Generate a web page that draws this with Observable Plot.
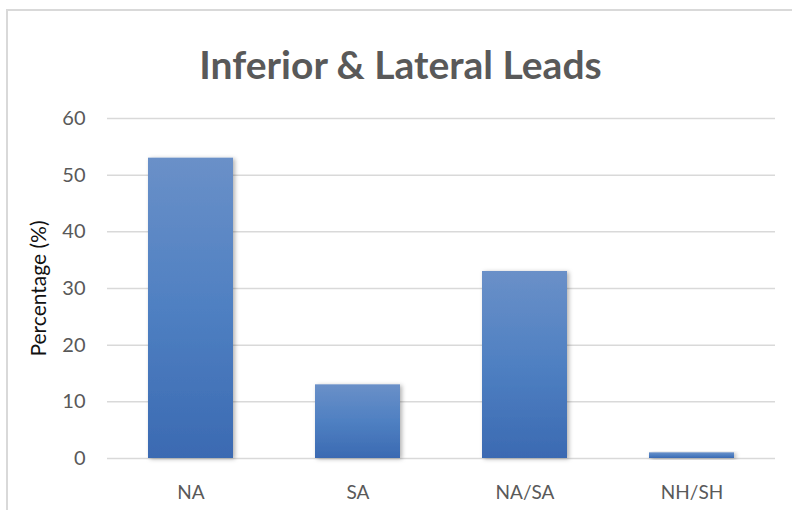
<!DOCTYPE html>
<html><head><meta charset="utf-8">
<script src="https://cdn.jsdelivr.net/npm/d3@7"></script>
<script src="https://cdn.jsdelivr.net/npm/@observablehq/plot@0.6"></script>
<style>
body{margin:0;background:#fff;}
#wrap{position:relative;width:792px;height:510px;overflow:hidden;background:#fff;}
#border{position:absolute;left:6px;top:9px;width:820px;height:540px;border:2px solid #d9d9d9;box-sizing:border-box;}
#wrap svg{position:absolute;left:0;top:0;}
</style></head><body><div id="wrap"><div id="border"></div></div>
<script>
const categories = ["NA", "SA", "NA/SA", "NH/SH"];
const values = [53, 13, 33, 1];
const yTicks = [0, 10, 20, 30, 40, 50, 60];
const title = "Inferior & Lateral Leads";
const yLabel = "Percentage (%)";

const data = categories.map((c, i) => ({category: c, value: values[i]}));

const chart = Plot.plot({
  width: 792, height: 510,
  marginLeft: 107, marginRight: 17, marginTop: 118, marginBottom: 52,
  style: {fontFamily: "Lato, 'Open Sans', sans-serif", background: "transparent", overflow: "visible"},
  x: {domain: categories, paddingInner: 0.49, paddingOuter: 0.245, label: null},
  y: {domain: [0, 60], ticks: yTicks, label: null},
  marks: [
    Plot.gridY(yTicks, {stroke: "#d9d9d9", strokeOpacity: 1, strokeWidth: 1.5}),
    Plot.barY(data, {x: "category", y: "value", fill: "url(#barGrad)"}),
    Plot.axisY(yTicks, {tickSize: 0, tickPadding: 22, fontSize: 20, fill: "#595959", label: null}),
    Plot.axisX({tickSize: 0, tickPadding: 27, fontSize: 19, fill: "#595959", label: null}),
    Plot.text([yLabel], {frameAnchor: "left", textAnchor: "middle", dx: -68, rotate: -90, fontSize: 21, fill: "#111"}),
    Plot.text([title], {frameAnchor: "top", dx: -41, dy: -67, fontSize: 39, fontWeight: "bold", fill: "#595959"})
  ]
});

const svg = d3.select(chart);
svg.insert("defs", ":first-child").html(`
  <linearGradient id="barGrad" x1="0" y1="0" x2="0" y2="1">
    <stop offset="0" stop-color="#6a90c8"/>
    <stop offset="0.5" stop-color="#4f80c2"/>
    <stop offset="1" stop-color="#3b6ab2"/>
  </linearGradient>
  <filter id="shadow" x="-20%" y="-20%" width="140%" height="140%">
    <feDropShadow dx="2" dy="1" stdDeviation="2" flood-color="#000" flood-opacity="0.3"/>
  </filter>`);
svg.selectAll("g[aria-label=bar] rect").attr("filter", "url(#shadow)");
document.getElementById("wrap").appendChild(chart);
</script>
</body></html>
